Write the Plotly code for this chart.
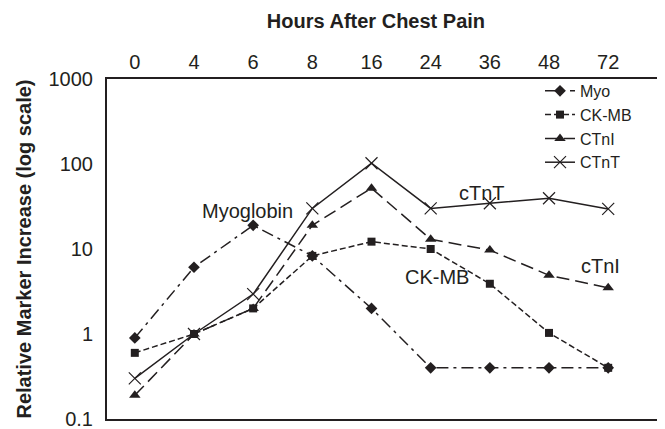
import plotly.graph_objects as go

# Hours after chest pain (equally spaced categories)
hours = ["0", "4", "6", "8", "16", "24", "36", "48", "72"]

# Relative marker increase
myo = [0.9, 6.1, 19, 8.3, 2.0, 0.4, 0.4, 0.4, 0.4]
ckmb = [0.6, 1.0, 2.0, 8.3, 12.2, 10, 3.9, 1.03, 0.4]
ctni = [0.19, 1.0, 2.0, 19, 52, 13, 9.7, 4.9, 3.5]
ctnt = [0.3, 1.0, 2.95, 30, 102, 30, 34.5, 39.5, 29.6]

y_ticks = [0.1, 1, 10, 100, 1000]
y_labels = ["0.1", "1", "10", "100", "1000"]

FONT = "Liberation Sans, Arial, sans-serif"
INK = "#231f20"

fig = go.Figure()

fig.add_trace(go.Scatter(
    x=hours, y=myo, name="Myo", mode="lines+markers",
    line=dict(color=INK, width=1.5, dash="12px,5px,3px,5px"),
    marker=dict(symbol="diamond", size=9, color=INK),
))
fig.add_trace(go.Scatter(
    x=hours, y=ckmb, name="CK-MB", mode="lines+markers",
    line=dict(color=INK, width=1.5, dash="6px,3px"),
    marker=dict(symbol="square", size=8, color=INK),
))
fig.add_trace(go.Scatter(
    x=hours, y=ctni, name="CTnI", mode="lines+markers",
    line=dict(color=INK, width=1.5, dash="13px,6px"),
    marker=dict(symbol="triangle-up", size=10, color=INK),
))
fig.add_trace(go.Scatter(
    x=hours, y=ctnt, name="CTnT", mode="lines+markers",
    line=dict(color=INK, width=1.5),
    marker=dict(symbol="x-thin-open", size=12, line=dict(color=INK, width=1.2)),
))

# in-plot labels (y in log10 units for the log axis)
for txt, xc, ylog in [("Myoglobin", 1.91, 1.45), ("cTnT", 5.86, 1.66),
                      ("CK-MB", 5.10, 0.67), ("cTnI", 7.87, 0.80)]:
    fig.add_annotation(x=xc, y=ylog, xref="x", yref="y", text=txt, showarrow=False,
                       font=dict(family=FONT, size=20, color=INK))

fig.update_xaxes(
    type="category", side="top", range=[-0.47, 8.96], automargin=False,
    showline=True, linecolor=INK, linewidth=2, mirror=True,
    ticks="", showgrid=False, zeroline=False,
    tickfont=dict(family=FONT, size=20, color=INK),
)
fig.update_yaxes(
    type="log", range=[-1, 3], automargin=False,
    tickvals=y_ticks, ticktext=y_labels, ticklabelstandoff=8,
    showline=True, linecolor=INK, linewidth=2,
    ticks="", showgrid=False, zeroline=False,
    tickfont=dict(family=FONT, size=20, color=INK),
    title=dict(text="<b>Relative Marker Increase (log scale)</b>", standoff=12,
               font=dict(family=FONT, size=20, color=INK)),
)

# the page body adds an 8px offset, so margins are reduced on the left/top
fig.update_layout(
    width=665, height=429,
    margin=dict(l=99, r=8, t=71, b=18),
    plot_bgcolor="white", paper_bgcolor="white",
    title=dict(text="<b>Hours After Chest Pain</b>", xref="paper", x=0.482,
               xanchor="center", yref="container", y=0.97, yanchor="middle",
               font=dict(family=FONT, size=20, color=INK)),
    showlegend=True,
    legend=dict(x=0.776, y=1.015, xanchor="left", yanchor="top",
                bgcolor="rgba(0,0,0,0)", tracegroupgap=0, itemwidth=30,
                font=dict(family=FONT, size=16, color=INK)),
)

fig.write_html("out.html")
